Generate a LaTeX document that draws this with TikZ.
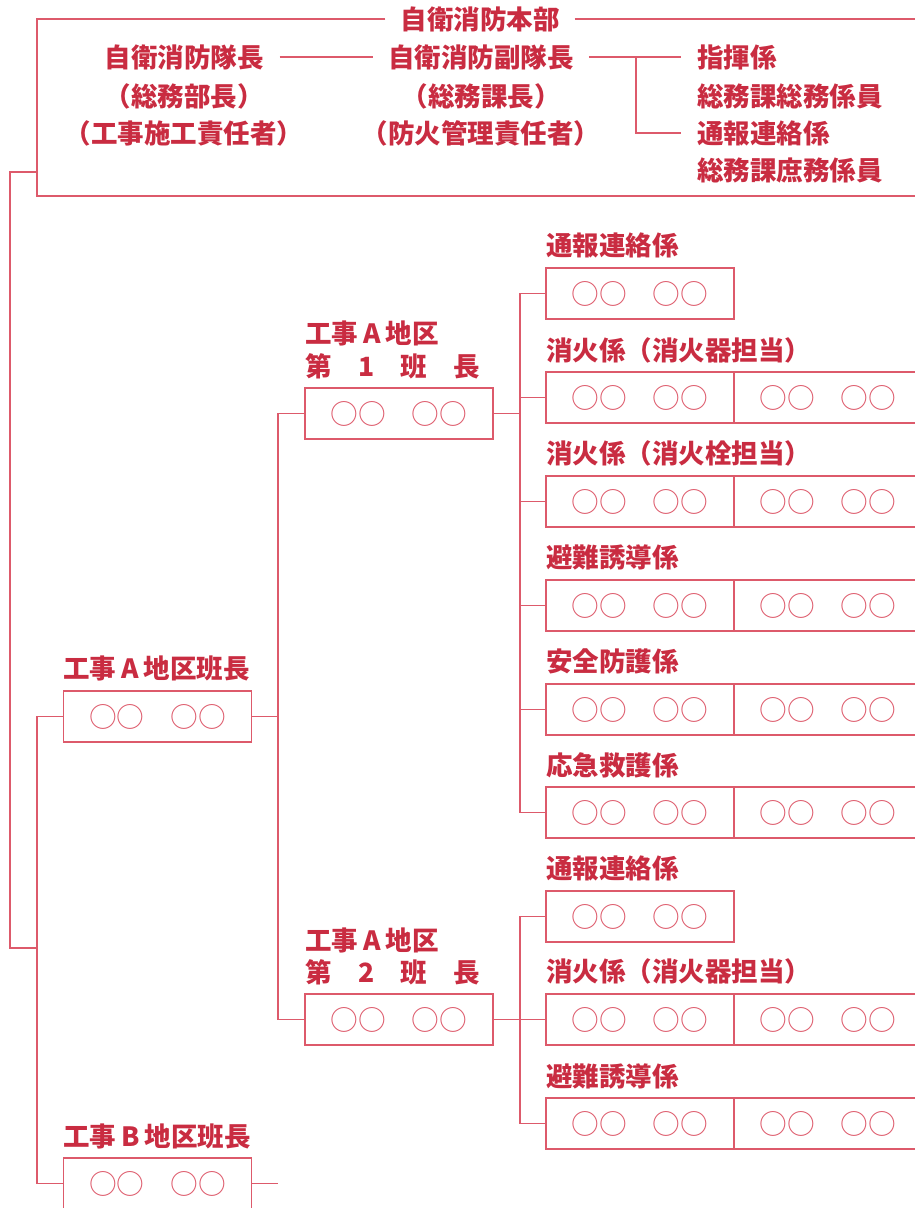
\documentclass[tikz,border=0pt]{standalone}
\usepackage{fontspec}
\setmainfont{Noto Sans CJK JP}
\definecolor{lc}{HTML}{DD5A6B}
\definecolor{tc}{HTML}{C92C41}
\begin{document}
\begin{tikzpicture}[x=1pt,y=-1pt,
  cell/.style={draw=lc, line width=1.4pt, minimum width=188pt, minimum height=51pt, inner sep=0pt, text=lc, font=\fontsize{27.7}{27.7}\selectfont},
  lbl/.style={text=tc, font=\bfseries\fontsize{26.5}{26.5}\selectfont, inner sep=0pt},
  ln/.style={draw=lc, line width=1.4pt}]
\useasboundingbox (0,0) rectangle (915,1208);
\clip (0,0) rectangle (915,1208);
\def\cc{○○\hspace{26pt}○○}
\def\la{\hspace{5pt}A\hspace{5pt}}
\def\lb{\hspace{5pt}B\hspace{5pt}}
% ---- top box ----
\node[lbl, inner xsep=15pt] (title) at (480,19) {自衛消防本部};
\coordinate (tbR) at (940,19);
\coordinate (tbL) at (37,19);
\coordinate (tbBL) at (37,196);
\coordinate (tbBR) at (940,196);
\draw[ln] (title.west) -- (tbL) -- (tbBL) -- (tbBR);
\draw[ln] (title.east) -- (tbR);
\node[lbl, inner xsep=16pt] (taicho) at (184,57) {自衛消防隊長};
\node[lbl] (c1) at (184,96) {（総務部長）};
\node[lbl] (c2) at (184,133) {（工事施工責任者）};
\node[lbl, inner xsep=15pt] (fuku) at (481,57) {自衛消防副隊長};
\node[lbl] (c3) at (481,96) {（総務課長）};
\node[lbl] (c4) at (481,133) {（防火管理責任者）};
\node[lbl, anchor=west, inner xsep=16pt] (shiki) at (681,57) {指揮係};
\node[lbl, anchor=west] (s1) at (697,96) {総務課総務係員};
\node[lbl, anchor=west, inner xsep=16pt] (tsuho) at (681,133) {通報連絡係};
\node[lbl, anchor=west] (s2) at (697,170) {総務課庶務係員};
\draw[ln] (taicho.east) -- (fuku.west);
\draw[ln] (fuku.east) -- (shiki.west);
\coordinate (jt) at (636,57);
\draw[ln] (jt) |- (tsuho.west);
% ---- outer trunk ----
\coordinate (o1) at (37,172);
\coordinate (o2) at (10,172);
\coordinate (o3) at (10,948);
\coordinate (o4) at (37,948);
\draw[ln] (o1) -- (o2) -- (o3) -- (o4);
% ---- area heads ----
\node[cell] (A) at (157.5,716.5) {\cc};
\node[lbl, anchor=west] (Al) at (63,668) {工事\la 地区班長};
\node[cell] (B) at (157.5,1183.5) {\cc};
\node[lbl, anchor=west] (Bl) at (63,1136) {工事\lb 地区班長};
\coordinate (tA) at (37,716.5);
\draw[ln] (A.west) -- (tA) |- (B.west);
\coordinate (Bend) at (278,1183.5);
\draw[ln] (B.east) -- (Bend);
% ---- squad heads ----
\node[cell] (H1) at (399,413.5) {\cc};
\node[lbl, anchor=west] at (305,333) {工事\la 地区};
\node[lbl, anchor=west] at (305,366) {第　1　班　長};
\node[cell] (H2) at (399,1019.5) {\cc};
\node[lbl, anchor=west] at (305,940) {工事\la 地区};
\node[lbl, anchor=west] at (305,972) {第　2　班　長};
\coordinate (t2) at (278,716.5);
\draw[ln] (A.east) -- (t2);
\draw[ln] (H1.west) -| (t2) |- (H2.west);
% ---- squad 1 ----
\node[cell] (a1) at (640,293.5) {\cc};
\node[lbl, anchor=west] at (546,245) {通報連絡係};
\node[cell] (a2) at (640,397.5) {\cc};
\node[cell] (a2b) at (828,397.5) {\cc};
\node[lbl, anchor=west] at (546,350) {消火係（消火器担当）};
\node[cell] (a3) at (640,501.5) {\cc};
\node[cell] (a3b) at (828,501.5) {\cc};
\node[lbl, anchor=west] at (546,453) {消火係（消火栓担当）};
\node[cell] (a4) at (640,605.5) {\cc};
\node[cell] (a4b) at (828,605.5) {\cc};
\node[lbl, anchor=west] at (546,557) {避難誘導係};
\node[cell] (a5) at (640,709.5) {\cc};
\node[cell] (a5b) at (828,709.5) {\cc};
\node[lbl, anchor=west] at (546,661) {安全防護係};
\node[cell] (a6) at (640,812.5) {\cc};
\node[cell] (a6b) at (828,812.5) {\cc};
\node[lbl, anchor=west] at (546,765) {応急救護係};
\coordinate (t3) at (520,413.5);
\draw[ln] (H1.east) -- (t3);
\draw[ln] (a1.west) -| (t3) |- (a6.west);
\foreach \n in {a2,a3,a4,a5} \draw[ln] (\n.west) -- ++(-26,0);
% ---- squad 2 ----
\node[cell] (b1) at (640,916.5) {\cc};
\node[lbl, anchor=west] at (546,868) {通報連絡係};
\node[cell] (b2) at (640,1019.5) {\cc};
\node[cell] (b2b) at (828,1019.5) {\cc};
\node[lbl, anchor=west] at (546,971) {消火係（消火器担当）};
\node[cell] (b3) at (640,1123.5) {\cc};
\node[cell] (b3b) at (828,1123.5) {\cc};
\node[lbl, anchor=west] at (546,1076) {避難誘導係};
\coordinate (t4) at (520,1019.5);
\draw[ln] (H2.east) -- (b2.west);
\draw[ln] (b1.west) -| (t4) |- (b3.west);
\end{tikzpicture}
\end{document}
